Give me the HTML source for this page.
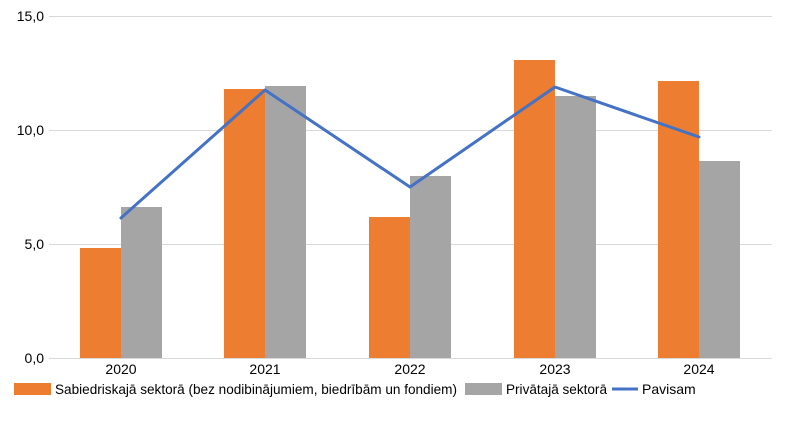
<!DOCTYPE html>
<html><head><meta charset="utf-8"><style>html,body{margin:0;padding:0;background:#fff}svg{display:block}</style></head>
<body>
<svg width="788" height="421" xmlns="http://www.w3.org/2000/svg" font-family="'Liberation Sans',sans-serif" font-size="14" fill="#000">
<g stroke="#d9d9d9" stroke-width="1">
<line x1="49" y1="16.5" x2="772" y2="16.5"/>
<line x1="49" y1="130.5" x2="772" y2="130.5"/>
<line x1="49" y1="244.5" x2="772" y2="244.5"/>
</g>
<g text-anchor="end">
<text x="44" y="21">15,0</text>
<text x="44" y="135">10,0</text>
<text x="44" y="249">5,0</text>
<text x="44" y="363">0,0</text>
</g>
<g fill="#ed7d31">
<rect x="80" y="248" width="41" height="110"/>
<rect x="224" y="89" width="41" height="269"/>
<rect x="369" y="217" width="41" height="141"/>
<rect x="514" y="60" width="41" height="298"/>
<rect x="658" y="81" width="41" height="277"/>
</g>
<g fill="#a5a5a5">
<rect x="121" y="207" width="41" height="151"/>
<rect x="265" y="86" width="41" height="272"/>
<rect x="410" y="176" width="41" height="182"/>
<rect x="555" y="96" width="41" height="262"/>
<rect x="699" y="161" width="41" height="197"/>
</g>
<line x1="49" y1="358.5" x2="772" y2="358.5" stroke="#d9d9d9"/>
<polyline points="121,218 265,90 410,187 555,87 699,137" fill="none" stroke="#4472c4" stroke-width="3" stroke-linejoin="round" stroke-linecap="round"/>
<g text-anchor="middle">
<text x="121" y="374">2020</text>
<text x="265" y="374">2021</text>
<text x="410" y="374">2022</text>
<text x="555" y="374">2023</text>
<text x="699" y="374">2024</text>
</g>
<rect x="14" y="383" width="37" height="12" fill="#ed7d31"/>
<text x="55" y="394" textLength="402" lengthAdjust="spacingAndGlyphs">Sabiedriskajā sektorā (bez nodibinājumiem, biedrībām un fondiem)</text>
<rect x="465" y="383" width="37" height="12" fill="#a5a5a5"/>
<text x="506" y="394" textLength="101" lengthAdjust="spacingAndGlyphs">Privātajā sektorā</text>
<line x1="612" y1="389" x2="638" y2="389" stroke="#4472c4" stroke-width="3"/>
<text x="642" y="394">Pavisam</text>
</svg>
</body></html>
